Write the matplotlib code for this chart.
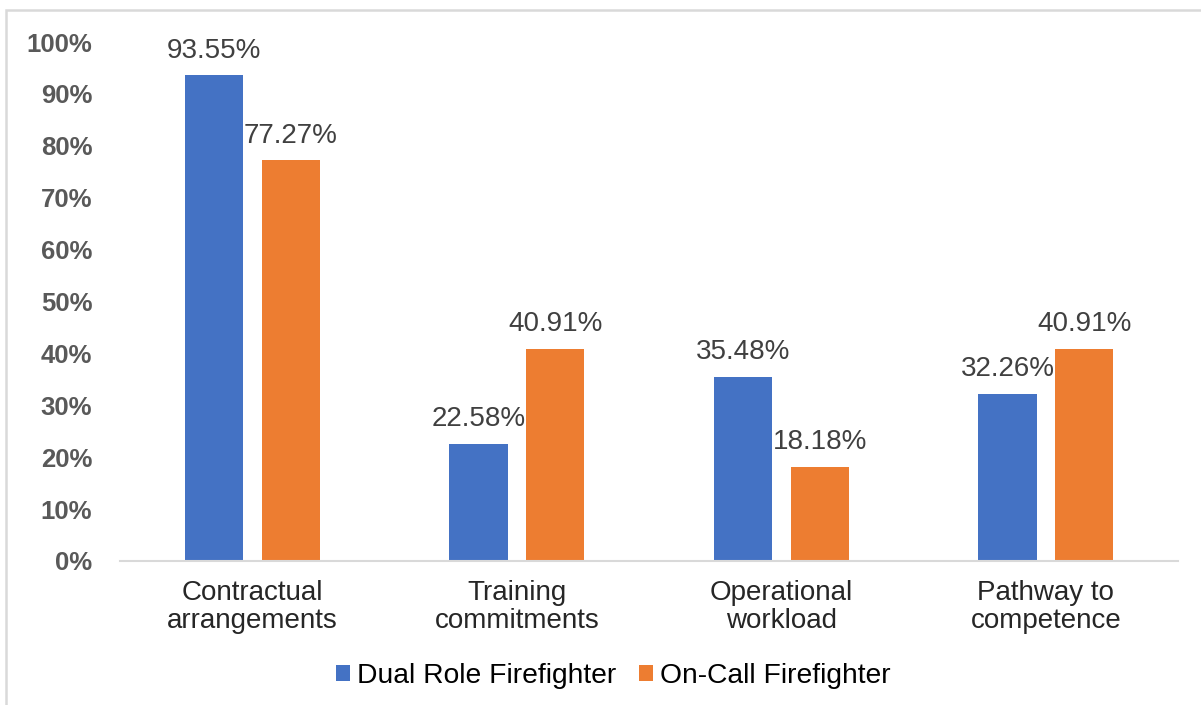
import matplotlib.pyplot as plt
import numpy as np
from matplotlib.patches import Rectangle

categories = ["Contractual\narrangements", "Training\ncommitments",
              "Operational\nworkload", "Pathway to\ncompetence"]
series_names = ["Dual Role Firefighter", "On-Call Firefighter"]
dual_role = [93.55, 22.58, 35.48, 32.26]
on_call = [77.27, 40.91, 18.18, 40.91]
colors = ["#4472C4", "#ED7D31"]
yticks = [0, 10, 20, 30, 40, 50, 60, 70, 80, 90, 100]

plt.rcParams["font.family"] = ["Liberation Sans", "DejaVu Sans"]

fig = plt.figure(figsize=(12.01, 7.05), dpi=100)
ax = fig.add_axes([0.0999, 0.2043, 0.8811, 0.7361])

x = np.arange(len(categories))
width = 0.22
offset = 0.145
for vals, name, color, sign in zip([dual_role, on_call], series_names, colors, [-1, 1]):
    bars = ax.bar(x + sign * offset, vals, width, color=color, label=name)
    for b, v in zip(bars, vals):
        ax.text(b.get_x() + b.get_width() / 2, v + 2.2, f"{v:.2f}%",
                ha="center", va="bottom", fontsize=20, color="#404040")

ax.set_xlim(-0.5, len(categories) - 0.5)
ax.set_ylim(0, 100)
ax.set_yticks(yticks)
ax.set_yticklabels([f"{t}%" for t in yticks], fontsize=18.5, fontweight="bold",
                   color="#595959")
ax.set_xticks(x)
ax.set_xticklabels(categories, fontsize=20, color="#262626", linespacing=1.1)
ax.tick_params(axis="y", length=0, pad=20)
ax.tick_params(axis="x", length=0, pad=14)
for side in ["top", "right", "left"]:
    ax.spines[side].set_visible(False)
ax.spines["bottom"].set_color("#D9D9D9")
ax.spines["bottom"].set_linewidth(1.5)

leg = fig.legend(loc="center", bbox_to_anchor=(613 / 1201, 1 - 676 / 705), ncol=2,
                 frameon=False, fontsize=20.3, handlelength=0.5, handleheight=0.5,
                 handletextpad=0.25, columnspacing=0.8)
for t in leg.get_texts():
    t.set_color("#000000")

fig.patches.append(Rectangle((6 / 1201, -0.1), 1.2, 1 - 10 / 705 + 0.1,
                             transform=fig.transFigure, fill=False,
                             edgecolor="#D9D9D9", linewidth=1.8))

fig.savefig("out.png", dpi=100)
